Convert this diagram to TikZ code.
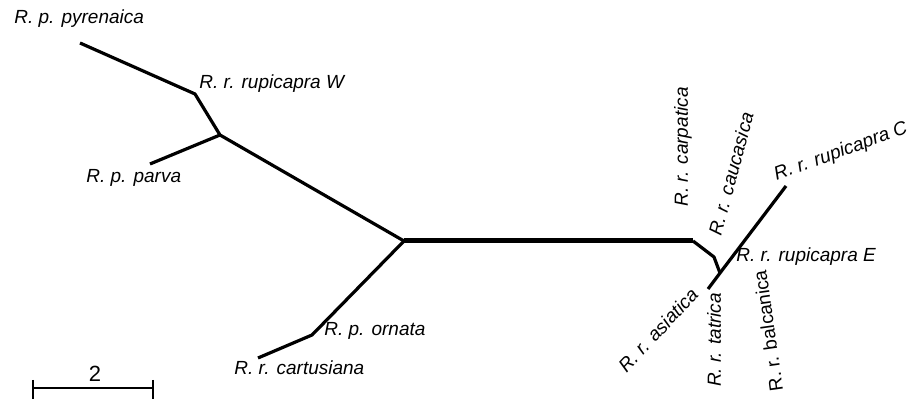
\documentclass[tikz,border=0pt]{standalone}
\usepackage{fontspec}
\setmainfont{Liberation Sans}
\usepackage{tikz}

\tikzset{
  taxon/.style={inner sep=0pt,font=\fontsize{9.5}{11}\selectfont\itshape},
  branch/.style={line width=1.6pt,line join=round},
  stem/.style={line width=2.5pt,line join=round}
}

\begin{document}
\begin{tikzpicture}[x=0.5pt,y=-0.5pt]
\useasboundingbox (0,0) rectangle (911,399);

% tree vertices
\coordinate (pyr) at (80,43);
\coordinate (rupW) at (195,94);
\coordinate (west) at (220,135);
\coordinate (par) at (150,164);
\coordinate (root) at (404,241);
\coordinate (orn) at (312,335);
\coordinate (cart) at (258,358);
\coordinate (e1) at (693,241);
\coordinate (e2) at (714,257);
\coordinate (east) at (720,273);
\coordinate (rupC) at (786,186);
\coordinate (asi) at (708,289);

\draw[branch] (pyr) -- (rupW) -- (west) -- (root);
\draw[branch] (par) -- (west);
\draw[branch] (root) -- (orn) -- (cart);
\draw[stem] (root) -- (e1);
\draw[branch] (e1) -- (e2) -- (east);
\draw[branch] (asi) -- (east) -- (rupC);

% labels
\node[taxon,anchor=west] (lpyr) at (14,19) {R. p. pyrenaica};
\node[taxon,anchor=west] (lrupW) at (199,84) {R. r. rupicapra W};
\node[taxon,anchor=west] (lpar) at (86,178) {R. p. parva};
\node[taxon,anchor=west] (lorn) at (324,331) {R. p. ornata};
\node[taxon,anchor=west] (lcart) at (234,368) {R. r. cartusiana};
\node[taxon,anchor=west] (lrupE) at (736,257) {R. r. rupicapra E};
\node[taxon,rotate=20] (lrupC) at (841,152) {R. r. rupicapra C};
\node[taxon,rotate=90] (lcarp) at (683,147) {R. r. carpatica};
\node[taxon,rotate=75] (lcauc) at (731,174) {R. r. caucasica};
\node[taxon,rotate=47] (lasi) at (658,330) {R. r. asiatica};
\node[taxon,rotate=90] (ltat) at (714,340) {R. r. tatrica};
\node[taxon,rotate=98,font=\fontsize{9.5}{11}\selectfont] (lbal) at (768,331) {R. r. balcanica};

% scale bar
\coordinate (s1) at (33,388);
\coordinate (s2) at (153,388);
\draw[line width=1pt] (s1) -- (s2);
\draw[line width=1pt] ([yshift=4pt]s1) -- ([yshift=-6pt]s1);
\draw[line width=1pt] ([yshift=4pt]s2) -- ([yshift=-6pt]s2);
\node[inner sep=0pt,font=\fontsize{11}{13}\selectfont] (sc) at (95,374) {2};
\end{tikzpicture}
\end{document}
